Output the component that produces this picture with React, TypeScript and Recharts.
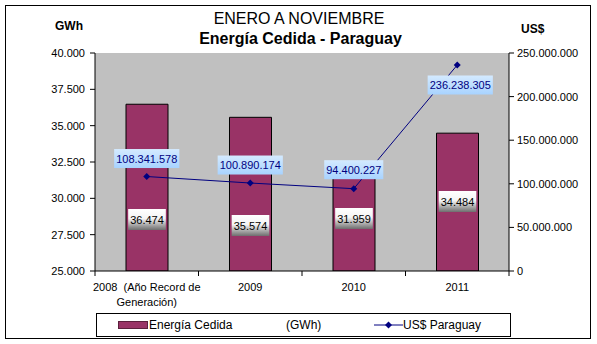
import { Bar, CartesianGrid, ComposedChart, LabelList, Line, XAxis, YAxis } from "recharts";

const categories = ["2008\u00a0\u00a0(Año Record de\nGeneración)", "2009", "2010", "2011"];
const energiaGWh = [36474, 35574, 31959, 34484];
const usdParaguay = [108341578, 100890174, 94400227, 236238305];
const gwhTicks = [25000, 27500, 30000, 32500, 35000, 37500, 40000];
const usdTicks = [0, 50000000, 100000000, 150000000, 200000000, 250000000];

// label nudges (px)
const barLabelRise = [51, 45, 52, 69];
const lineLabelDy = [-18, -18, -19, 20];
const lineLabelDx = [0, 0, 0, 3];

const data = categories.map((name, i) => ({
  name,
  gwh: energiaGWh[i],
  usd: usdParaguay[i],
}));

const FONT = "Arial, 'Liberation Sans', sans-serif";
const W = 597;
const H = 344;
const LEFT_W = 95;
const RIGHT_W = 88;
const HALF_BAND = (W - LEFT_W - RIGHT_W) / categories.length / 2;

const fmt = (v: number) => Math.round(v).toString().replace(/\B(?=(\d{3})+(?!\d))/g, ".");
const textW = (s: string) => s.split("").reduce((a, c) => a + (c === "." ? 3.06 : 6.12), 0);

const XTick = (props: any) => {
  const { x, y, payload, index } = props;
  const lines = String(payload.value).split("\n");
  return (
    <g>
      {index === 0 && <line x1={x - HALF_BAND} x2={x - HALF_BAND} y1={y} y2={y + 5} stroke="#000" />}
      <line x1={x + HALF_BAND} x2={x + HALF_BAND} y1={y} y2={y + 5} stroke="#000" />
      <text x={x} y={y + 20} textAnchor="middle" fontSize={11} fill="#000" fontFamily={FONT}>
        {lines.map((l, i) => (
          <tspan key={i} x={x} dy={i === 0 ? 0 : 15}>
            {l}
          </tspan>
        ))}
      </text>
    </g>
  );
};

const Diamond = (props: any) => {
  const { cx, cy } = props;
  if (cx == null || cy == null) return null;
  const r = 3.5;
  return <path d={`M${cx},${cy - r}L${cx + r},${cy}L${cx},${cy + r}L${cx - r},${cy}Z`} fill="#000080" />;
};

const BarValue = (props: any) => {
  const { x, y, width, height, value, index } = props;
  const cx = x + width / 2;
  const cy = y + height - barLabelRise[index];
  const s = fmt(value);
  const w = textW(s) + 4;
  return (
    <g>
      <rect x={cx - w / 2} y={cy - 11} width={w} height={21} fill="url(#barLbl)" />
      <text x={cx} y={cy + 4} textAnchor="middle" fontSize={11} fill="#000" fontFamily={FONT}>
        {s}
      </text>
    </g>
  );
};

const LineValue = (props: any) => {
  const { x, y, value, index } = props;
  const cx = x + lineLabelDx[index];
  const cy = y + lineLabelDy[index];
  const s = fmt(value);
  const w = textW(s) + 4;
  return (
    <g>
      <rect x={cx - w / 2} y={cy - 9.5} width={w} height={19} fill="url(#lineLbl)" />
      <text x={cx} y={cy + 4} textAnchor="middle" fontSize={11} fill="#000080" fontFamily={FONT}>
        {s}
      </text>
    </g>
  );
};

export default function App() {
  return (
    <div style={{ position: "absolute", left: 0, top: 0, width: W, height: H, background: "#fff", fontFamily: FONT }}>
      <div
        style={{
          position: "absolute",
          left: 5,
          top: 5,
          width: 586,
          height: 334,
          border: "1px solid #000",
          boxSizing: "border-box",
        }}
      />
      <ComposedChart width={W} height={H} data={data} margin={{ top: 53, right: 0, bottom: 0, left: 0 }}>
        <defs>
          <linearGradient id="barLbl" x1="0" y1="0" x2="0" y2="1">
            <stop offset="0" stopColor="#ffffff" />
            <stop offset="0.45" stopColor="#f4f4f4" />
            <stop offset="1" stopColor="#6e6e6e" />
          </linearGradient>
          <linearGradient id="lineLbl" x1="0" y1="0" x2="0" y2="1">
            <stop offset="0" stopColor="#d4eaff" />
            <stop offset="1" stopColor="#a8d3ff" />
          </linearGradient>
        </defs>
        <CartesianGrid yAxisId="left" fill="#C0C0C0" stroke="none" horizontal={false} vertical={false} />
        <XAxis
          dataKey="name"
          height={73}
          interval={0}
          tickSize={0}
          tickMargin={0}
          tickLine={false}
          axisLine={{ stroke: "#000" }}
          tick={<XTick />}
        />
        <YAxis
          yAxisId="left"
          width={LEFT_W}
          domain={[25000, 40000]}
          ticks={gwhTicks}
          interval={0}
          allowDataOverflow
          tickFormatter={fmt}
          tickSize={5}
          tickMargin={5}
          axisLine={{ stroke: "#000" }}
          tickLine={{ stroke: "#000" }}
          tick={{ fill: "#000", fontSize: 11, fontFamily: FONT }}
        />
        <YAxis
          yAxisId="right"
          orientation="right"
          width={RIGHT_W}
          domain={[0, 250000000]}
          ticks={usdTicks}
          interval={0}
          tickFormatter={fmt}
          tickSize={5}
          tickMargin={3}
          axisLine={{ stroke: "#000" }}
          tickLine={{ stroke: "#000" }}
          tick={{ fill: "#000", fontSize: 11, fontFamily: FONT }}
        />
        <Bar yAxisId="left" dataKey="gwh" fill="#993366" stroke="#000" strokeWidth={1} barSize={42} isAnimationActive={false}>
          <LabelList dataKey="gwh" content={<BarValue />} />
        </Bar>
        <Line
          yAxisId="right"
          dataKey="usd"
          stroke="#000080"
          strokeWidth={1}
          dot={<Diamond />}
          activeDot={false}
          isAnimationActive={false}
        >
          <LabelList dataKey="usd" content={<LineValue />} />
        </Line>
      </ComposedChart>

      <div style={{ position: "absolute", left: 0, width: W, top: 11, textAlign: "center", fontSize: 16, lineHeight: "16px", paddingLeft: 1, boxSizing: "border-box" }}>
        ENERO A NOVIEMBRE
      </div>
      <div style={{ position: "absolute", left: 0, width: W, top: 31, textAlign: "center", fontSize: 16, fontWeight: "bold", lineHeight: "16px", paddingLeft: 4, boxSizing: "border-box" }}>
        Energía Cedida - Paraguay
      </div>
      <div style={{ position: "absolute", left: 55, top: 20, fontSize: 12, fontWeight: "bold", lineHeight: "12px" }}>GWh</div>
      <div style={{ position: "absolute", left: 521, top: 23, fontSize: 12, fontWeight: "bold", lineHeight: "12px" }}>US$</div>

      <div
        style={{
          position: "absolute",
          left: 96,
          top: 313,
          width: 415,
          height: 24,
          border: "1px solid #000",
          boxSizing: "border-box",
          background: "#fff",
          fontSize: 12,
        }}
      >
        <div style={{ position: "absolute", left: 21, top: 7, width: 30, height: 8, background: "#993366", border: "1px solid #5a1f3c", boxSizing: "border-box" }} />
        <div style={{ position: "absolute", left: 52, top: 4, lineHeight: "14px" }}>Energía Cedida</div>
        <div style={{ position: "absolute", left: 189, top: 4, lineHeight: "14px" }}>(GWh)</div>
        <svg style={{ position: "absolute", left: 277, top: 5 }} width={29} height={12}>
          <line x1={0} x2={29} y1={6} y2={6} stroke="#000080" />
          <path d="M14.5,2.5L18,6L14.5,9.5L11,6Z" fill="#000080" />
        </svg>
        <div style={{ position: "absolute", left: 306, top: 4, lineHeight: "14px" }}>US$ Paraguay</div>
      </div>
    </div>
  );
}
